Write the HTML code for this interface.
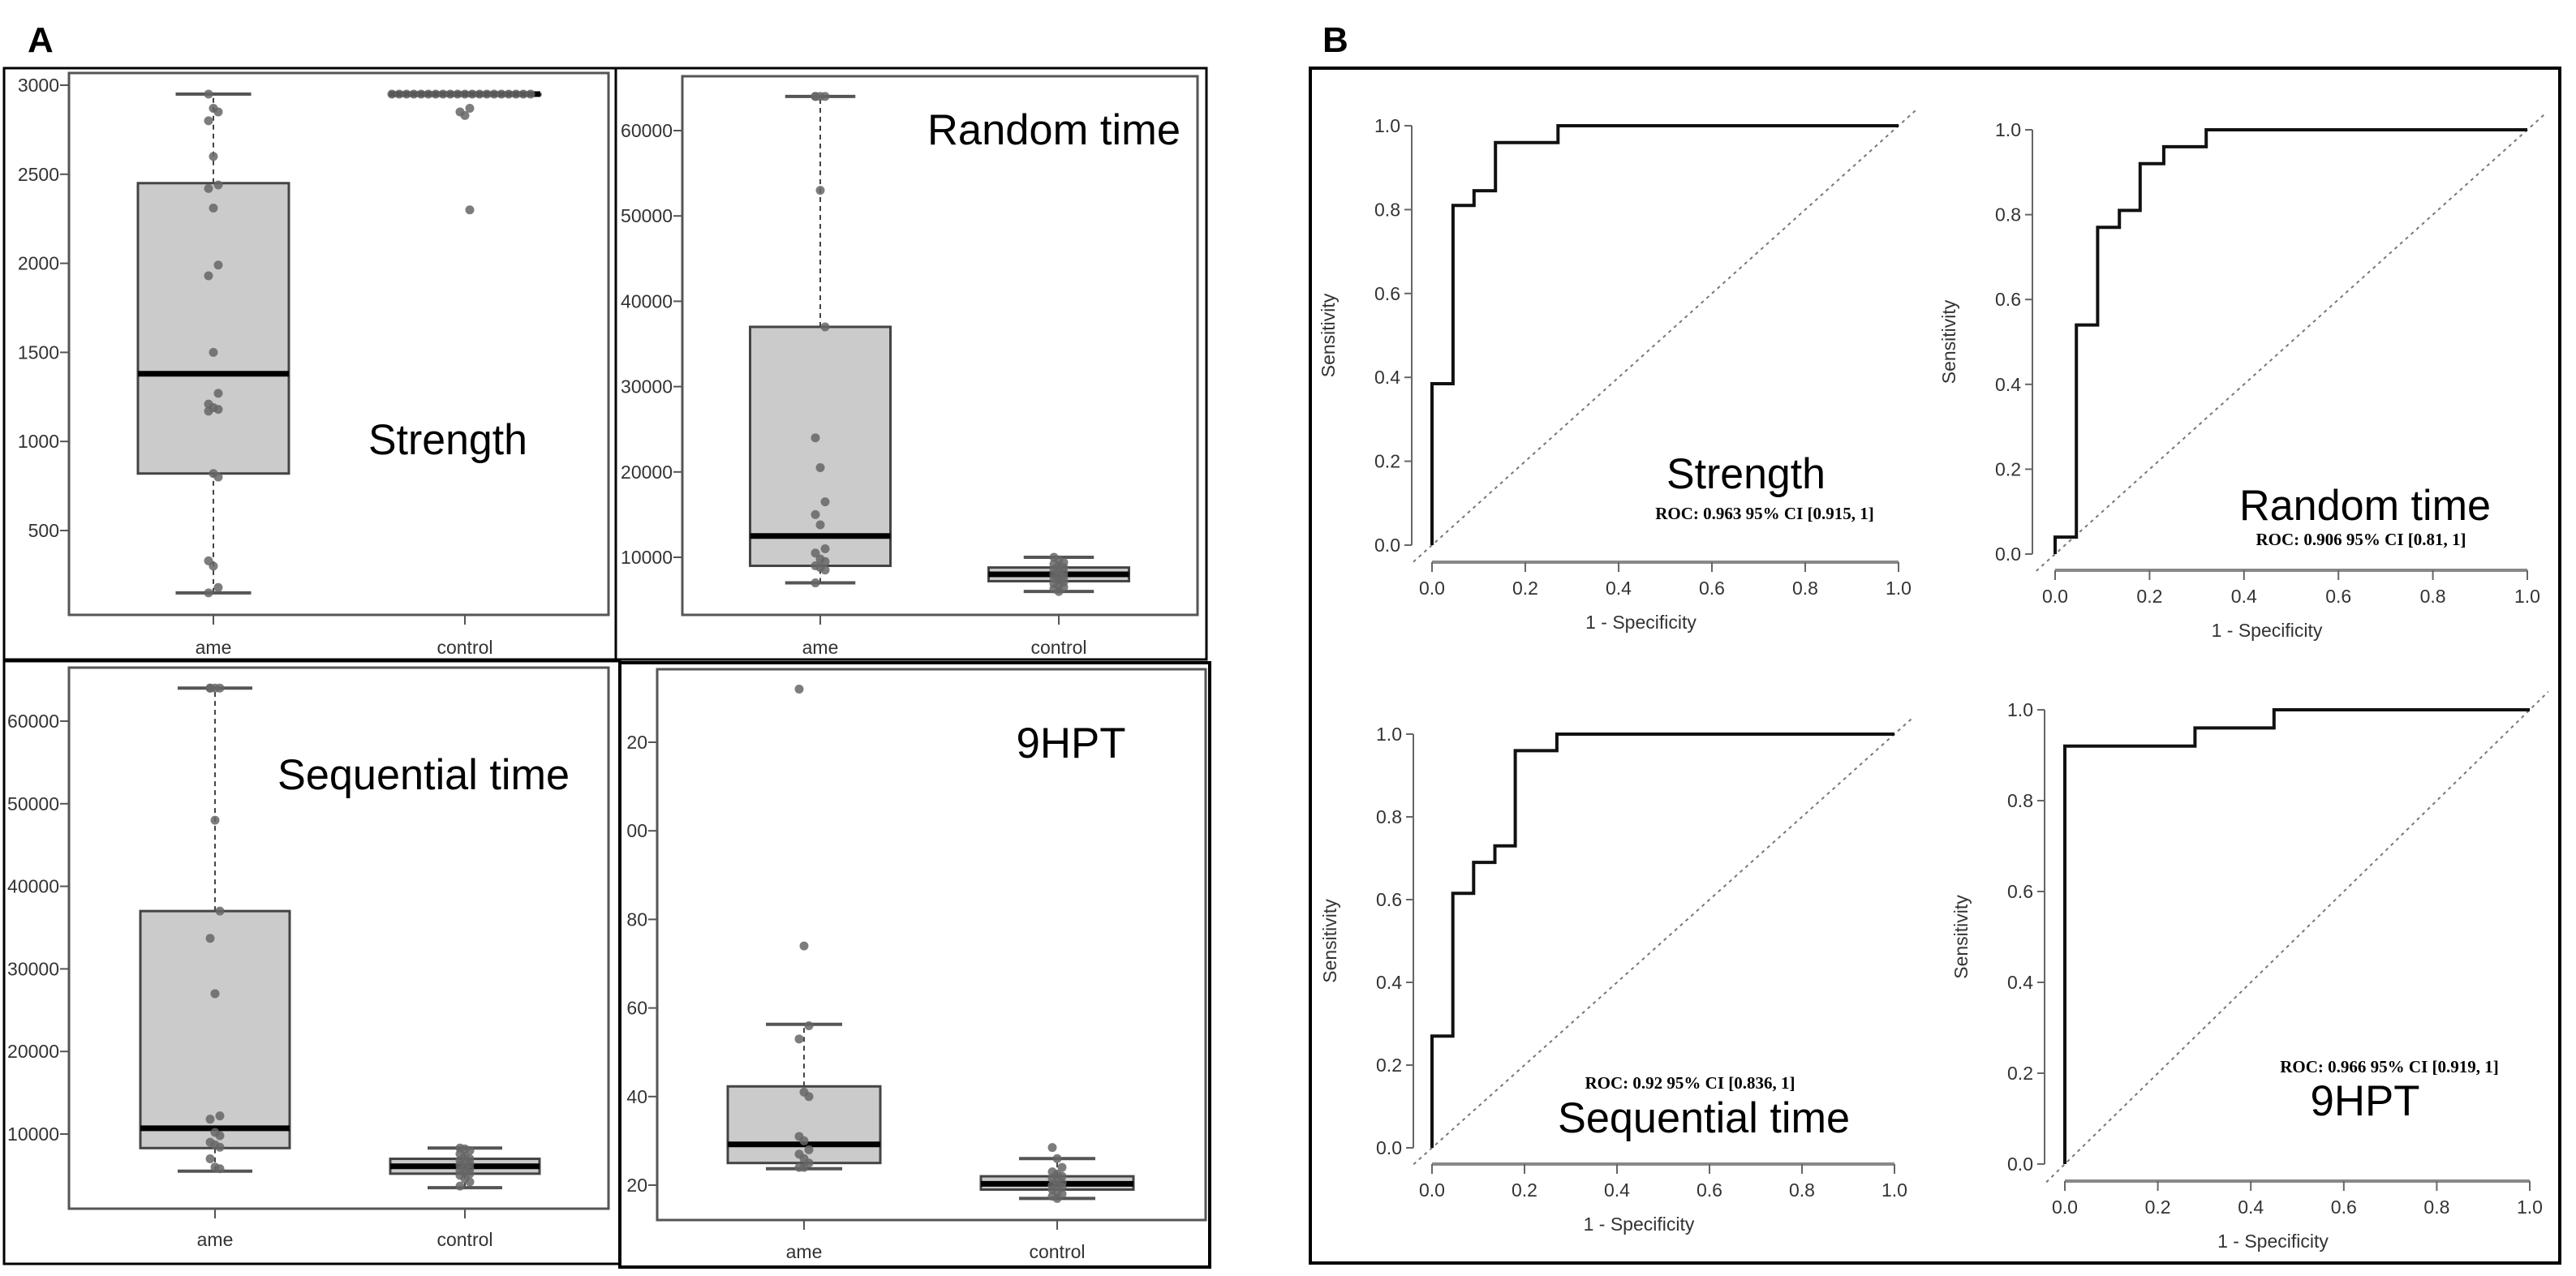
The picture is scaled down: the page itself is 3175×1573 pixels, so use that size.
<!DOCTYPE html>
<html><head><meta charset="utf-8"><style>
html,body{margin:0;padding:0;background:#fff;}
svg{display:block;font-family:"Liberation Sans",sans-serif;}
.tk{font-family:"Liberation Sans Narrow","Liberation Sans",sans-serif;font-size:23px;fill:#333;}
.ttl{font-family:"Liberation Sans Narrow","Liberation Sans",sans-serif;font-size:53px;fill:#000;}
.roc{font-family:"Liberation Serif",serif;font-size:21px;font-weight:bold;fill:#000;}
</style></head><body>
<svg id="fig" width="3175" height="1573" viewBox="0 0 3175 1573">
<text x="34" y="64" font-size="44" font-weight="bold">A</text>
<text x="1630" y="64" font-size="44" font-weight="bold">B</text>
<rect x="5" y="84" width="754" height="729" fill="none" stroke="#000" stroke-width="3"/>
<rect x="759" y="84" width="728" height="729" fill="none" stroke="#000" stroke-width="3"/>
<rect x="5" y="815" width="759" height="743" fill="none" stroke="#000" stroke-width="3"/>
<rect x="764" y="817" width="727" height="745" fill="none" stroke="#000" stroke-width="4"/>
<rect x="1615" y="84" width="1540" height="1473" fill="none" stroke="#000" stroke-width="4"/>
<defs><clipPath id="c9"><rect x="772" y="817" width="719" height="745"/></clipPath></defs>
<g id="gA"></g>
<g id="gB"></g>
</svg>
<script>
// ---------- Boxplot data ----------
const categories = ["ame", "control"];
const strengthTicks = [500, 1000, 1500, 2000, 2500, 3000];
const strengthAmeStats = [150, 820, 1380, 2450, 2950];
const strengthCtrlStats = [2950, 2950, 2950, 2950, 2950];
const strengthAmePts = [2950, 2870, 2850, 2800, 2600, 2440, 2420, 2310, 1990, 1930, 1500, 1270, 1210, 1190, 1180, 1170, 820, 800, 330, 300, 180, 150];
const strengthCtrlPts = [2950, 2950, 2950, 2950, 2950, 2950, 2950, 2950, 2950, 2950, 2950, 2950, 2950, 2950, 2950, 2950, 2950, 2950, 2950, 2950, 2870, 2850, 2830, 2300];
const randomTicks = [10000, 20000, 30000, 40000, 50000, 60000];
const randomAmeStats = [7000, 9000, 12500, 37000, 64000];
const randomCtrlStats = [6000, 7200, 8000, 8800, 10000];
const randomAmePts = [64000, 64000, 64000, 64000, 53000, 37000, 24000, 20500, 16500, 15000, 13800, 11000, 10500, 9800, 9500, 9000, 8800, 8500, 7000];
const randomCtrlPts = [10000, 9700, 9400, 9200, 9000, 8800, 8600, 8400, 8200, 8000, 7900, 7700, 7500, 7300, 7100, 6900, 6700, 6500, 6300, 6000];
const seqTicks = [10000, 20000, 30000, 40000, 50000, 60000];
const seqAmeStats = [5500, 8300, 10700, 37000, 64000];
const seqCtrlStats = [3500, 5200, 6100, 7000, 8300];
const seqAmePts = [64000, 64000, 64000, 64000, 48000, 37000, 33700, 27000, 12200, 11800, 10200, 9800, 9000, 8700, 8400, 7000, 6000, 5800];
const seqCtrlPts = [8300, 8200, 8000, 7600, 7300, 7000, 6800, 6600, 6400, 6200, 6000, 5800, 5600, 5400, 5200, 5000, 4600, 4200, 3700];
const hptTicks = [20, 40, 60, 80, 100, 120];
const hptAmeStats = [23.7, 25, 29.2, 42.3, 56.3];
const hptCtrlStats = [17, 19, 20.3, 22, 26];
const hptAmePts = [132, 74, 56, 53, 41, 40, 31, 30, 28, 27, 26, 25, 24, 24];
const hptCtrlPts = [28.5, 26, 24, 23, 22.5, 22, 21.5, 21, 20.5, 20, 20, 19.5, 19, 18.5, 18, 17.5, 17];

// ---------- ROC data ----------
const rocTicks = [0, 0.2, 0.4, 0.6, 0.8, 1.0];
const strengthFpr = [0, 0, 0.045, 0.045, 0.09, 0.09, 0.136, 0.136, 0.27, 0.27, 1];
const strengthTpr = [0, 0.385, 0.385, 0.81, 0.81, 0.845, 0.845, 0.96, 0.96, 1, 1];
const randomFpr = [0, 0, 0.045, 0.045, 0.09, 0.09, 0.136, 0.136, 0.18, 0.18, 0.23, 0.23, 0.32, 0.32, 1];
const randomTpr = [0, 0.04, 0.04, 0.54, 0.54, 0.77, 0.77, 0.81, 0.81, 0.92, 0.92, 0.96, 0.96, 1, 1];
const seqFpr = [0, 0, 0.045, 0.045, 0.09, 0.09, 0.136, 0.136, 0.18, 0.18, 0.27, 0.27, 1];
const seqTpr = [0, 0.27, 0.27, 0.615, 0.615, 0.69, 0.69, 0.73, 0.73, 0.96, 0.96, 1, 1];
const hptFpr = [0, 0, 0.28, 0.28, 0.45, 0.45, 1];
const hptTpr = [0, 0.92, 0.92, 0.96, 0.96, 1, 1];

const NS = "http://www.w3.org/2000/svg";
function mk(parent, tag, attrs, text) {
  const e = document.createElementNS(NS, tag);
  for (const k in attrs) e.setAttribute(k, attrs[k]);
  if (text !== undefined) e.textContent = text;
  parent.appendChild(e);
  return e;
}
const gA = document.getElementById("gA");
const gB = document.getElementById("gB");

function boxPanel(cfg) {
  const g = mk(gA, "g", {});
  
  
  if (cfg.clip) g.setAttribute("clip-path", "url(#" + cfg.clip + ")");
  const y = v => cfg.y0 + (v - cfg.v0) * (cfg.y1 - cfg.y0) / (cfg.v1 - cfg.v0);
  const pb = mk(g, "rect", {x: cfg.px0, y: cfg.py0, width: cfg.px1 - cfg.px0, height: cfg.py1 - cfg.py0, fill: "none", stroke: "#555", "stroke-width": 3});
  
  
  cfg.ticks.forEach(t => {
    const yy = y(t);
    mk(g, "line", {x1: cfg.px0 - 11, x2: cfg.px0, y1: yy, y2: yy, stroke: "#555", "stroke-width": 2});
    const lb = mk(g, "text", {x: cfg.px0 - 12, y: yy + 8, "text-anchor": "end", class: "tk"}, String(t));
    
    
  });
  const groups = [[cfg.s0, cfg.p0, cfg.cx0], [cfg.s1, cfg.p1, cfg.cx1]];
  groups.forEach((gr, gi) => {
    const [st, pts, cx] = gr;
    const hw = cfg.bw / 2, cw = cfg.bw / 4;
    const gg = mk(g, "g", {});
    
    
    mk(gg, "line", {x1: cx, x2: cx, y1: y(st[0]), y2: y(st[1]), stroke: "#444", "stroke-width": 2, "stroke-dasharray": "6,5"});
    mk(gg, "line", {x1: cx, x2: cx, y1: y(st[3]), y2: y(st[4]), stroke: "#444", "stroke-width": 2, "stroke-dasharray": "6,5"});
    mk(gg, "line", {x1: cx - cw, x2: cx + cw, y1: y(st[0]), y2: y(st[0]), stroke: "#555", "stroke-width": 4});
    mk(gg, "line", {x1: cx - cw, x2: cx + cw, y1: y(st[4]), y2: y(st[4]), stroke: "#555", "stroke-width": 4});
    mk(gg, "rect", {x: cx - hw, y: y(st[3]), width: cfg.bw, height: Math.max(1, y(st[1]) - y(st[3])), fill: "#cbcbcb", stroke: "#444", "stroke-width": 3});
    mk(gg, "line", {x1: cx - hw, x2: cx + hw, y1: y(st[2]), y2: y(st[2]), stroke: "#000", "stroke-width": 7});
    pts.forEach((p, i) => {
      const dx = cfg.spread && gi === 1 && p === st[4] ? (i - 10) * 9 : ((i % 3) - 1) * 6;
      const c = mk(gg, "circle", {cx: cx + dx, cy: y(p), r: 5.5, fill: "#666", "fill-opacity": 0.85});
      
      
    });
    mk(g, "line", {x1: cx, x2: cx, y1: cfg.py1, y2: cfg.py1 + 12, stroke: "#555", "stroke-width": 2});
    const cl = mk(g, "text", {x: cx, y: cfg.catY, "text-anchor": "middle", class: "tk"}, categories[gi]);
    
    
  });
  const tt = mk(g, "text", {x: cfg.tx, y: cfg.ty, "text-anchor": "middle", class: "ttl", textLength: cfg.tw, lengthAdjust: "spacingAndGlyphs"}, cfg.title);
  
  
}

boxPanel({name: "strength", title: "Strength", tw: 196, tx: 552, ty: 560, px0: 85, px1: 750, py0: 90, py1: 758, v0: 3000, y0: 105, v1: 500, y1: 654, ticks: strengthTicks, s0: strengthAmeStats, s1: strengthCtrlStats, p0: strengthAmePts, p1: strengthCtrlPts, cx0: 263, cx1: 573, bw: 186, catY: 806, spread: true});
boxPanel({name: "random-time", title: "Random time", tw: 312, tx: 1299, ty: 178, px0: 841, px1: 1476, py0: 94, py1: 758, v0: 60000, y0: 161, v1: 10000, y1: 687, ticks: randomTicks, s0: randomAmeStats, s1: randomCtrlStats, p0: randomAmePts, p1: randomCtrlPts, cx0: 1011, cx1: 1305, bw: 173, catY: 806});
boxPanel({name: "sequential-time", title: "Sequential time", tw: 360, tx: 522, ty: 973, px0: 85, px1: 750, py0: 823, py1: 1490, v0: 60000, y0: 889, v1: 10000, y1: 1398, ticks: seqTicks, s0: seqAmeStats, s1: seqCtrlStats, p0: seqAmePts, p1: seqCtrlPts, cx0: 265, cx1: 573, bw: 184, catY: 1536});
boxPanel({name: "9hpt", title: "9HPT", tw: 135, tx: 1320, ty: 934, px0: 810, px1: 1486, py0: 825, py1: 1504, v0: 120, y0: 915, v1: 20, y1: 1461, ticks: hptTicks, s0: hptAmeStats, s1: hptCtrlStats, p0: hptAmePts, p1: hptCtrlPts, cx0: 991, cx1: 1303, bw: 188, catY: 1551, clip: "c9"});

function rocPanel(cfg) {
  const g = mk(gB, "g", {});
  
  
  const X = v => cfg.x0 + v * (cfg.x1 - cfg.x0);
  const Y = v => cfg.y0 + v * (cfg.y1 - cfg.y0);
  mk(g, "line", {x1: cfg.ax, x2: cfg.ax, y1: Y(0), y2: Y(1), stroke: "#666", "stroke-width": 2});
  mk(g, "line", {x1: X(0), x2: X(1), y1: cfg.ay, y2: cfg.ay, stroke: "#888", "stroke-width": 4});
  rocTicks.forEach(t => {
    mk(g, "line", {x1: cfg.ax - 9, x2: cfg.ax, y1: Y(t), y2: Y(t), stroke: "#666", "stroke-width": 2});
    const yl = mk(g, "text", {x: cfg.ax - 14, y: Y(t) + 8, "text-anchor": "end", class: "tk"}, t.toFixed(1));
    
    
    mk(g, "line", {x1: X(t), x2: X(t), y1: cfg.ay, y2: cfg.ay + 12, stroke: "#666", "stroke-width": 2});
    const xl = mk(g, "text", {x: X(t), y: cfg.ay + 40, "text-anchor": "middle", class: "tk"}, t.toFixed(1));
    
    
  });
  const xt = mk(g, "text", {x: (X(0) + X(1)) / 2 - 30, y: cfg.ay + 82, "text-anchor": "middle", class: "tk", "font-size": "21"}, "1 - Specificity");
  
  
  const yt = mk(g, "text", {x: 0, y: 0, "text-anchor": "middle", class: "tk", "font-size": "21", transform: "translate(" + (cfg.ax - 95) + "," + ((Y(0) + Y(1)) / 2) + ") rotate(-90)"}, "Sensitivity");
  
  
  const dg = mk(g, "line", {x1: X(-0.04), y1: Y(-0.04), x2: X(1.04), y2: Y(1.04), stroke: "#777", "stroke-width": 2, "stroke-dasharray": "4,5"});
  
  
  const d = cfg.fpr.map((f, i) => (i ? "L" : "M") + X(f).toFixed(1) + "," + Y(cfg.tpr[i]).toFixed(1)).join(" ");
  const pth = mk(g, "path", {d: d, fill: "none", stroke: "#111", "stroke-width": 4});
  
  
  const tt = mk(g, "text", {x: cfg.tx, y: cfg.ty, "text-anchor": "middle", class: "ttl", textLength: cfg.tw, lengthAdjust: "spacingAndGlyphs"}, cfg.title);
  
  
  const rt = mk(g, "text", {x: cfg.rx, y: cfg.ry, "text-anchor": "middle", class: "roc"}, cfg.roc);
  
  
}

rocPanel({name: "strength", title: "Strength", tw: 196, tx: 2152, ty: 602, roc: "ROC: 0.963 95% CI [0.915, 1]", rx: 2175, ry: 640, fpr: strengthFpr, tpr: strengthTpr, ax: 1740, ay: 693, x0: 1765, x1: 2340, y0: 672, y1: 155});
rocPanel({name: "random-time", title: "Random time", tw: 310, tx: 2915, ty: 641, roc: "ROC: 0.906 95% CI [0.81, 1]", rx: 2910, ry: 672, fpr: randomFpr, tpr: randomTpr, ax: 2505, ay: 703, x0: 2533, x1: 3115, y0: 683, y1: 160});
rocPanel({name: "sequential-time", title: "Sequential time", tw: 360, tx: 2100, ty: 1396, roc: "ROC: 0.92 95%  CI [0.836, 1]", rx: 2083, ry: 1342, fpr: seqFpr, tpr: seqTpr, ax: 1742, ay: 1435, x0: 1765, x1: 2335, y0: 1415, y1: 905});
rocPanel({name: "9hpt", title: "9HPT", tw: 135, tx: 2915, ty: 1375, roc: "ROC: 0.966 95% CI [0.919, 1]", rx: 2945, ry: 1322, fpr: hptFpr, tpr: hptTpr, ax: 2520, ay: 1456, x0: 2545, x1: 3118, y0: 1435, y1: 875});
</script>
</body></html>
